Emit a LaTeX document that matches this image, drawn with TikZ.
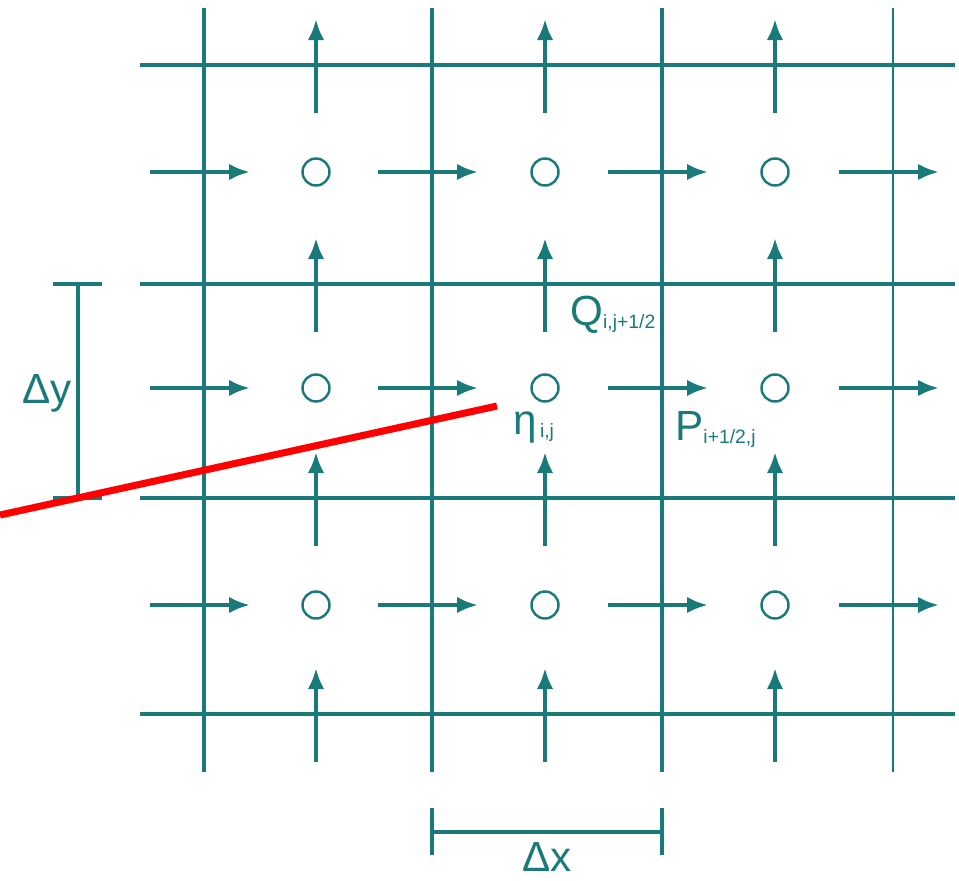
\documentclass[tikz,border=0pt]{standalone}
\usepackage{fontspec}
\setmainfont{Liberation Sans}
\usepackage{tikz}
\usetikzlibrary{arrows.meta}

\definecolor{gridteal}{RGB}{26,122,122}

\newcommand{\bigsym}[1]{{\fontsize{24}{28}\selectfont #1}}
\newcommand{\smallidx}[1]{\raisebox{-2pt}{\fontsize{11}{13}\selectfont #1}}

\begin{document}
\begin{tikzpicture}[
    x=0.02cm, y=-0.02cm,
    gridline/.style={draw=gridteal, line width=2.2pt},
    flux/.style={draw=gridteal, line width=2.2pt, -{Latex[length=0.42cm, width=0.33cm]}},
    cell/.style={circle, draw=gridteal, line width=1.4pt, minimum size=0.54cm, inner sep=0pt},
    lbl/.style={text=gridteal, anchor=base west, inner sep=0pt},
    bracket/.style={draw=gridteal, line width=2.2pt}
]
\useasboundingbox (0,0) rectangle (959,880);

% grid
\foreach \gx in {204,432,662} {
    \draw[gridline] (\gx,8) -- (\gx,772);
}
\draw[draw=gridteal, line width=1.3pt] (893,8) -- (893,772);
\foreach \gy in {65,284,498,714} {
    \draw[gridline] (140,\gy) -- (955,\gy);
}

% water levels
\foreach \cx/\cn in {316/a,545/b,775/c} {
    \foreach \cy/\rn in {172/1,388/2,605/3} {
        \node[cell] (eta\cn\rn) at (\cx,\cy) {};
    }
}

% fluxes in x
\foreach \cy in {172,388,605} {
    \foreach \gx in {204,432,662,893} {
        \draw[flux] (\gx-54,\cy) -- (\gx+46,\cy);
    }
}

% fluxes in y
\foreach \cx in {316,545,775} {
    \foreach \gy in {65,284,498,714} {
        \draw[flux] (\cx,\gy+48) -- (\cx,\gy-46);
    }
}

% labels
\node[lbl] (qlabel) at (570,325) {\bigsym{Q}\smallidx{i,j+1/2}};
\node[lbl] (etalabel) at (513,434) {\bigsym{η}\smallidx{\,i,j}};
\node[lbl] (plabel) at (675,440) {\bigsym{P}\smallidx{i+1/2,j}};

% spacings
\draw[bracket] (78,284) -- (78,498);
\draw[bracket] (53,284) -- (102,284);
\draw[bracket] (53,498) -- (102,498);
\node[lbl] (dylabel) at (22,403) {\bigsym{Δy}};

\draw[bracket] (432,832) -- (662,832);
\draw[bracket] (432,808) -- (432,855);
\draw[bracket] (662,808) -- (662,855);
\node[lbl] (dxlabel) at (522,871) {\bigsym{Δx}};

% pointer
\coordinate (pend) at (0,515);
\draw[red, line width=4pt] (pend) -- (497,406);

\end{tikzpicture}
\end{document}
